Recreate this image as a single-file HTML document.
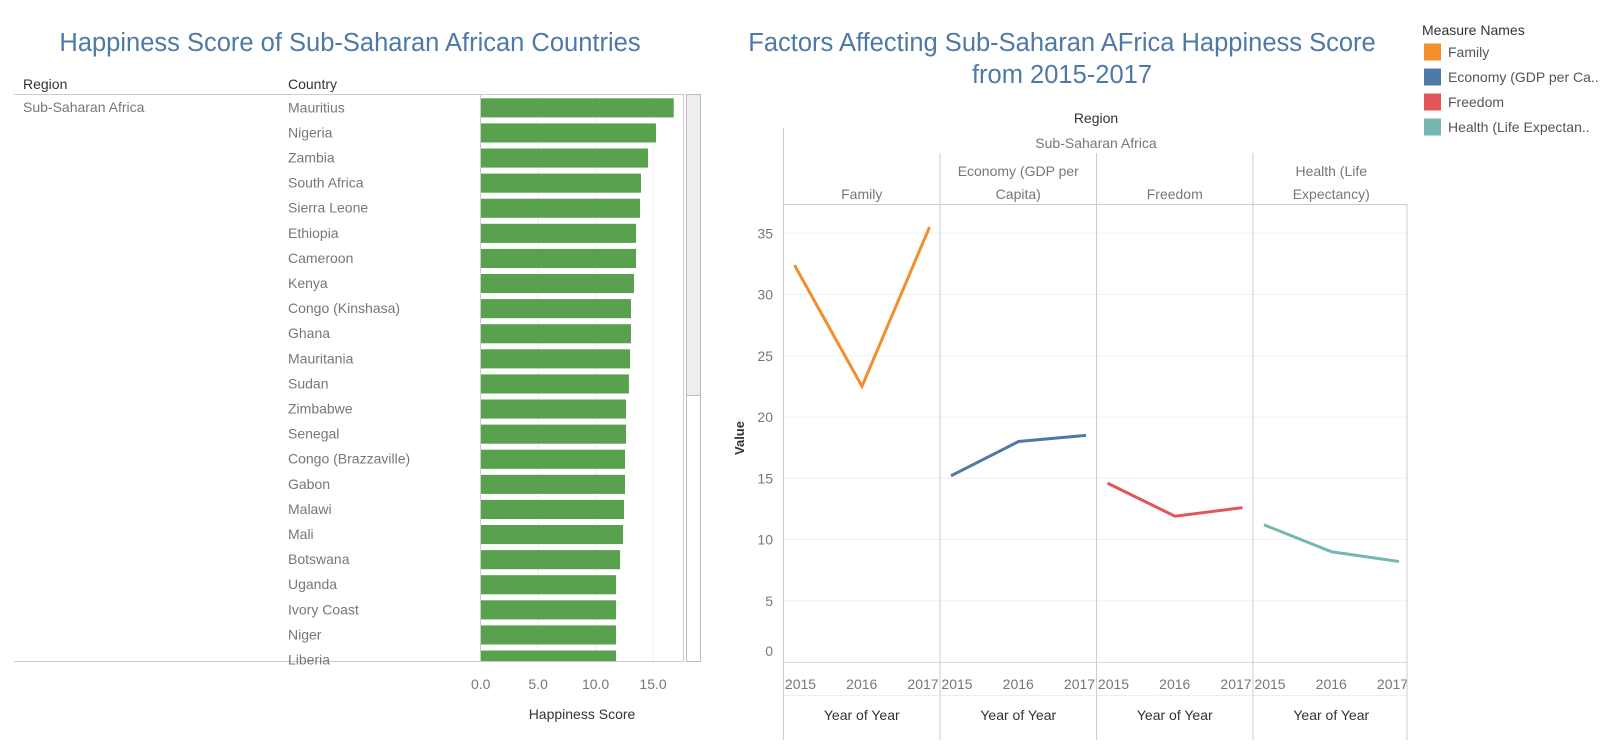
<!DOCTYPE html>
<html><head><meta charset="utf-8"><style>
html,body{margin:0;padding:0;background:#fff;}
svg{display:block;font-family:"Liberation Sans",sans-serif;}
</style></head><body>
<svg id="root" width="1624" height="749" viewBox="0 0 1624 749" xmlns="http://www.w3.org/2000/svg">
<text x="350" y="51" text-anchor="middle" font-size="25.5" fill="#4e79a7">Happiness Score of Sub-Saharan African Countries</text>
<text x="23" y="89" font-size="14" fill="#333">Region</text>
<text x="288" y="89" font-size="14" fill="#333">Country</text>
<line x1="14" y1="94.5" x2="480" y2="94.5" stroke="#ccc"/>
<rect x="480.5" y="94.5" width="203" height="567" fill="none" stroke="#ccc"/>
<line x1="14" y1="661.5" x2="684" y2="661.5" stroke="#ccc"/>
<text x="23" y="112" font-size="14" fill="#777">Sub-Saharan Africa</text>
<rect x="686.5" y="94.5" width="14" height="567" fill="#fff" stroke="#bbb"/>
<rect x="686.5" y="94.5" width="14" height="301" fill="#eee" stroke="#bbb"/>
<g id="bars"></g>
<text x="582" y="719" text-anchor="middle" font-size="14" fill="#333">Happiness Score</text>

<text x="1062" y="51" text-anchor="middle" font-size="25.5" fill="#4e79a7">Factors Affecting Sub-Saharan AFrica Happiness Score</text>
<text x="1062" y="83" text-anchor="middle" font-size="25.5" fill="#4e79a7">from 2015-2017</text>
<text x="1096" y="123" text-anchor="middle" font-size="14" fill="#333">Region</text>
<text x="1096" y="148" text-anchor="middle" font-size="14" fill="#777">Sub-Saharan Africa</text>
<line x1="783.5" y1="128" x2="783.5" y2="740" stroke="#ccc"/>
<line x1="783.5" y1="204.5" x2="1407" y2="204.5" stroke="#ccc"/>
<line x1="783.5" y1="662.5" x2="1407" y2="662.5" stroke="#ccc"/>
<line x1="783.5" y1="695.5" x2="1407" y2="695.5" stroke="#eee"/>
<text x="744" y="438" transform="rotate(-90 744 438)" text-anchor="middle" font-size="13" font-weight="bold" fill="#333">Value</text>
<g id="lines"></g>

<text x="1422" y="35" font-size="14" fill="#333">Measure Names</text>
<g id="legend"></g>
</svg>
<script>
const NS="http://www.w3.org/2000/svg";
const countries=["Mauritius","Nigeria","Zambia","South Africa","Sierra Leone","Ethiopia","Cameroon","Kenya","Congo (Kinshasa)","Ghana","Mauritania","Sudan","Zimbabwe","Senegal","Congo (Brazzaville)","Gabon","Malawi","Mali","Botswana","Uganda","Ivory Coast","Niger","Liberia"];
const scores=[16.8,15.26,14.56,13.95,13.87,13.52,13.52,13.34,13.08,13.08,13.0,12.9,12.65,12.65,12.56,12.56,12.47,12.39,12.13,11.78,11.78,11.78,11.78];
const barTicks=[0,5,10,15];
const barTickLabels=["0.0","5.0","10.0","15.0"];

const measures=["Family","Economy (GDP per Capita)","Freedom","Health (Life Expectancy)"];
const legendLabels=["Family","Economy (GDP per Ca..","Freedom","Health (Life Expectan.."];
const colors=["#f28e2b","#4e79a7","#e15759","#76b7b2"];
const years=["2015","2016","2017"];
const familyVals=[32.4,22.5,35.5];
const economyVals=[15.2,18.0,18.5];
const freedomVals=[14.6,11.9,12.6];
const healthVals=[11.2,9.0,8.2];
const yTicks=[0,5,10,15,20,25,30,35];

function mk(tag,attrs,parent,text){const e=document.createElementNS(NS,tag);for(const k in attrs)e.setAttribute(k,attrs[k]);if(text!==undefined)e.textContent=text;parent.appendChild(e);return e;}
const xb=v=>480.7+v*11.49;
const bars=document.getElementById('bars');
barTicks.forEach((t,i)=>{
  if(t>0){const g=mk('line',{x1:xb(t),x2:xb(t),y1:95,y2:661,stroke:'#eee'},bars);
  
  }
  const l=mk('text',{x:xb(t),y:689,'text-anchor':'middle','font-size':14,fill:'#777'},bars,barTickLabels[i]);
  
  
});
countries.forEach((c,i)=>{
  const y=98.3+i*25.1;
  const h=Math.min(19.1,661-y);
  const r=mk('rect',{x:481,y:y,width:xb(scores[i])-481,height:h,fill:'#59a14f'},bars);
  
  
  const t=mk('text',{x:288,y:y+14,'font-size':14,fill:'#777'},bars,c);
  
  
});

const lines=document.getElementById('lines');
const yv=v=>662-v*12.25;
const panelX=[783.5,940,1096.5,1253];
const pw=156.5;
const series=[familyVals,economyVals,freedomVals,healthVals];
yTicks.forEach(t=>{
  const g=mk('line',{x1:784,x2:1407,y1:yv(t),y2:yv(t),stroke:'#f0f0f0'},lines);
  
  
  const l=mk('text',{x:773,y:(t===0?yv(t)-6:yv(t)+5),'text-anchor':'end','font-size':14,fill:'#777'},lines,String(t));
  
  
});
const headerLines=[["","Family"],["Economy (GDP per","Capita)"],["","Freedom"],["Health (Life","Expectancy)"]];
const offs=[11,78.5,146];
measures.forEach((m,i)=>{
  const px=panelX[i];
  if(i>0){const d=mk('line',{x1:px,x2:px,y1:153,y2:740,stroke:'#ccc'},lines);
  
  }
  headerLines[i].forEach((s,j)=>{if(!s)return;
    const h=mk('text',{x:px+pw/2,y:176+j*23,'text-anchor':'middle','font-size':14,fill:'#777'},lines,s);
    
    });
  const pts=series[i].map((v,k)=>(px+offs[k])+','+yv(v)).join(' ');
  const pl=mk('polyline',{points:pts,fill:'none',stroke:colors[i],'stroke-width':3,'stroke-linejoin':'miter'},lines);
  
  
  years.forEach((y,k)=>{
    const ax=[px+17,px+pw/2,px+pw-17][k];
    const t=mk('text',{x:ax,y:689,'text-anchor':'middle','font-size':14,fill:'#777'},lines,y);
    
    
  });
  const yt=mk('text',{x:px+pw/2,y:720,'text-anchor':'middle','font-size':14,fill:'#333'},lines,'Year of Year');
  
  
});
const rb=mk('line',{x1:1407,x2:1407,y1:204,y2:740,stroke:'#ccc'},lines);



const lg=document.getElementById('legend');
legendLabels.forEach((l,i)=>{
  const cy=52+i*25;
  const s=mk('rect',{x:1424,y:cy-8.5,width:17,height:17,fill:colors[i]},lg);
  
  
  const t=mk('text',{x:1448,y:cy+5,'font-size':14,fill:'#555'},lg,l);
  
  
});
</script>
</body></html>
